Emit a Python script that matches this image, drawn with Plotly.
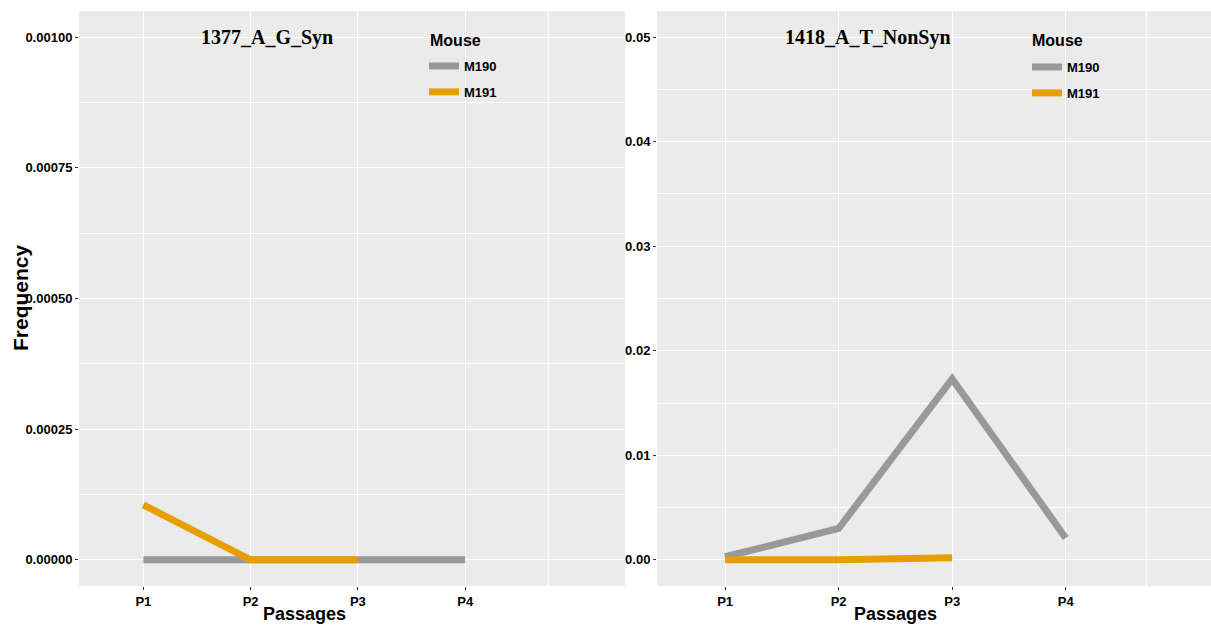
import plotly.graph_objects as go

passages = ["P1", "P2", "P3", "P4"]
mice = ["M190", "M191"]
colors = {"M190": "#999999", "M191": "#E69F00"}

panel_titles = ["1377_A_G_Syn", "1418_A_T_NonSyn"]
legend_title = "Mouse"
# panel 1 values
p1_m190 = [0.0, 0.0, 0.0, 0.0]
p1_m191 = [0.000105, 0.0, 0.0]
# panel 2 values
p2_m190 = [0.0003, 0.0030, 0.0173, 0.0021]
p2_m191 = [0.0, 0.0, 0.0002]

y1_ticks = [0.0, 0.00025, 0.0005, 0.00075, 0.001]
y2_ticks = [0.0, 0.01, 0.02, 0.03, 0.04, 0.05]

W, H = 1211, 625
SANS = "Liberation Sans"
SERIF = "Liberation Serif"
PANEL = "#EBEBEB"

fig = go.Figure()

series = [
    ("x", "y", "legend", [("M190", p1_m190), ("M191", p1_m191)]),
    ("x2", "y2", "legend2", [("M190", p2_m190), ("M191", p2_m191)]),
]
for xa, ya, lg, traces in series:
    for name, vals in traces:
        fig.add_trace(go.Scatter(
            x=passages[:len(vals)], y=vals, mode="lines", name=name,
            line=dict(color=colors[name], width=7),
            xaxis=xa, yaxis=ya, legend=lg, legendgroup=lg + name,
            hoverinfo="x+y+name",
        ))

tickfont = dict(family=SANS, size=13, color="black", weight="bold")
common_x = dict(
    type="category", categoryorder="array", categoryarray=passages,
    showgrid=True, gridcolor="white", gridwidth=1.2,
    ticks="outside", ticklen=3, tickcolor="#333333", tickwidth=1,
    tickfont=tickfont, zeroline=False, showline=False, fixedrange=True,
)
common_y = dict(
    showgrid=True, gridcolor="white", gridwidth=1.2,
    ticks="outside", ticklen=3, tickcolor="#333333", tickwidth=1,
    tickfont=tickfont, zeroline=False, showline=False,
)

legfont = dict(family=SANS, size=13, color="black", weight="bold")
ydom = [1 - 586 / H, 1 - 11 / H]
fig.update_layout(
    width=W, height=H,
    margin=dict(l=0, r=0, t=0, b=0),
    paper_bgcolor="white", plot_bgcolor=PANEL,
    xaxis=dict(common_x, domain=[79 / W, 625 / W], range=[-0.6, 4.49], anchor="y"),
    yaxis=dict(common_y, domain=ydom, range=[-0.00005, 0.00105], anchor="x",
               tickvals=y1_ticks, tickformat=".5f",
               minor=dict(showgrid=True, gridcolor="white", gridwidth=0.6,
                          tick0=0, dtick=0.000125, ticklen=0)),
    xaxis2=dict(common_x, domain=[657 / W, 1.0], range=[-0.6, 4.28], anchor="y2"),
    yaxis2=dict(common_y, domain=ydom, range=[-0.0025, 0.0525], anchor="x2",
                tickvals=y2_ticks, tickformat=".2f",
                minor=dict(showgrid=True, gridcolor="white", gridwidth=0.6,
                           tick0=0, dtick=0.005, ticklen=0)),
    showlegend=True,
    legend=dict(x=424 / W, y=1 - 51 / H, xanchor="left", yanchor="top",
                bgcolor="rgba(0,0,0,0)", tracegroupgap=6,
                font=legfont, itemwidth=30),
    legend2=dict(x=1027 / W, y=1 - 52 / H, xanchor="left", yanchor="top",
                 bgcolor="rgba(0,0,0,0)", tracegroupgap=6,
                 font=legfont, itemwidth=30),
)

# extra faint vertical gridline seen in both panels
fig.add_shape(type="line", xref="x", yref="y domain", x0=3.775, x1=3.775, y0=0, y1=1,
              line=dict(color="white", width=1.2), layer="below")
fig.add_shape(type="line", xref="x2", yref="y2 domain", x0=3.71, x1=3.71, y0=0, y1=1,
              line=dict(color="white", width=1.2), layer="below")

annots = [
    dict(text=panel_titles[0], x=267 / W, y=1 - 37 / H, xanchor="center",
         font=dict(family=SERIF, size=20, color="black", weight="bold")),
    dict(text=panel_titles[1], x=868 / W, y=1 - 37 / H, xanchor="center",
         font=dict(family=SERIF, size=20, color="black", weight="bold")),
    dict(text=legend_title, x=428 / W, y=1 - 40 / H, xanchor="left",
         font=dict(family=SANS, size=16, color="black", weight="bold")),
    dict(text=legend_title, x=1030 / W, y=1 - 40 / H, xanchor="left",
         font=dict(family=SANS, size=16, color="black", weight="bold")),
    dict(text="Passages", x=304 / W, y=1 - 614 / H, xanchor="center",
         font=dict(family=SANS, size=18, color="black", weight="bold")),
    dict(text="Passages", x=895 / W, y=1 - 614 / H, xanchor="center",
         font=dict(family=SANS, size=18, color="black", weight="bold")),
    dict(text="Frequency", x=20 / W, y=1 - 298 / H, textangle=-90, xanchor="center",
         font=dict(family=SANS, size=21, color="black", weight="bold")),
]
for a in annots:
    fig.add_annotation(xref="paper", yref="paper", showarrow=False,
                       yanchor="middle", **a)

fig.write_html(
    "out.html",
    config={"displayModeBar": False},
    post_script="document.body.style.margin='0';document.body.style.overflow='hidden';",
)
